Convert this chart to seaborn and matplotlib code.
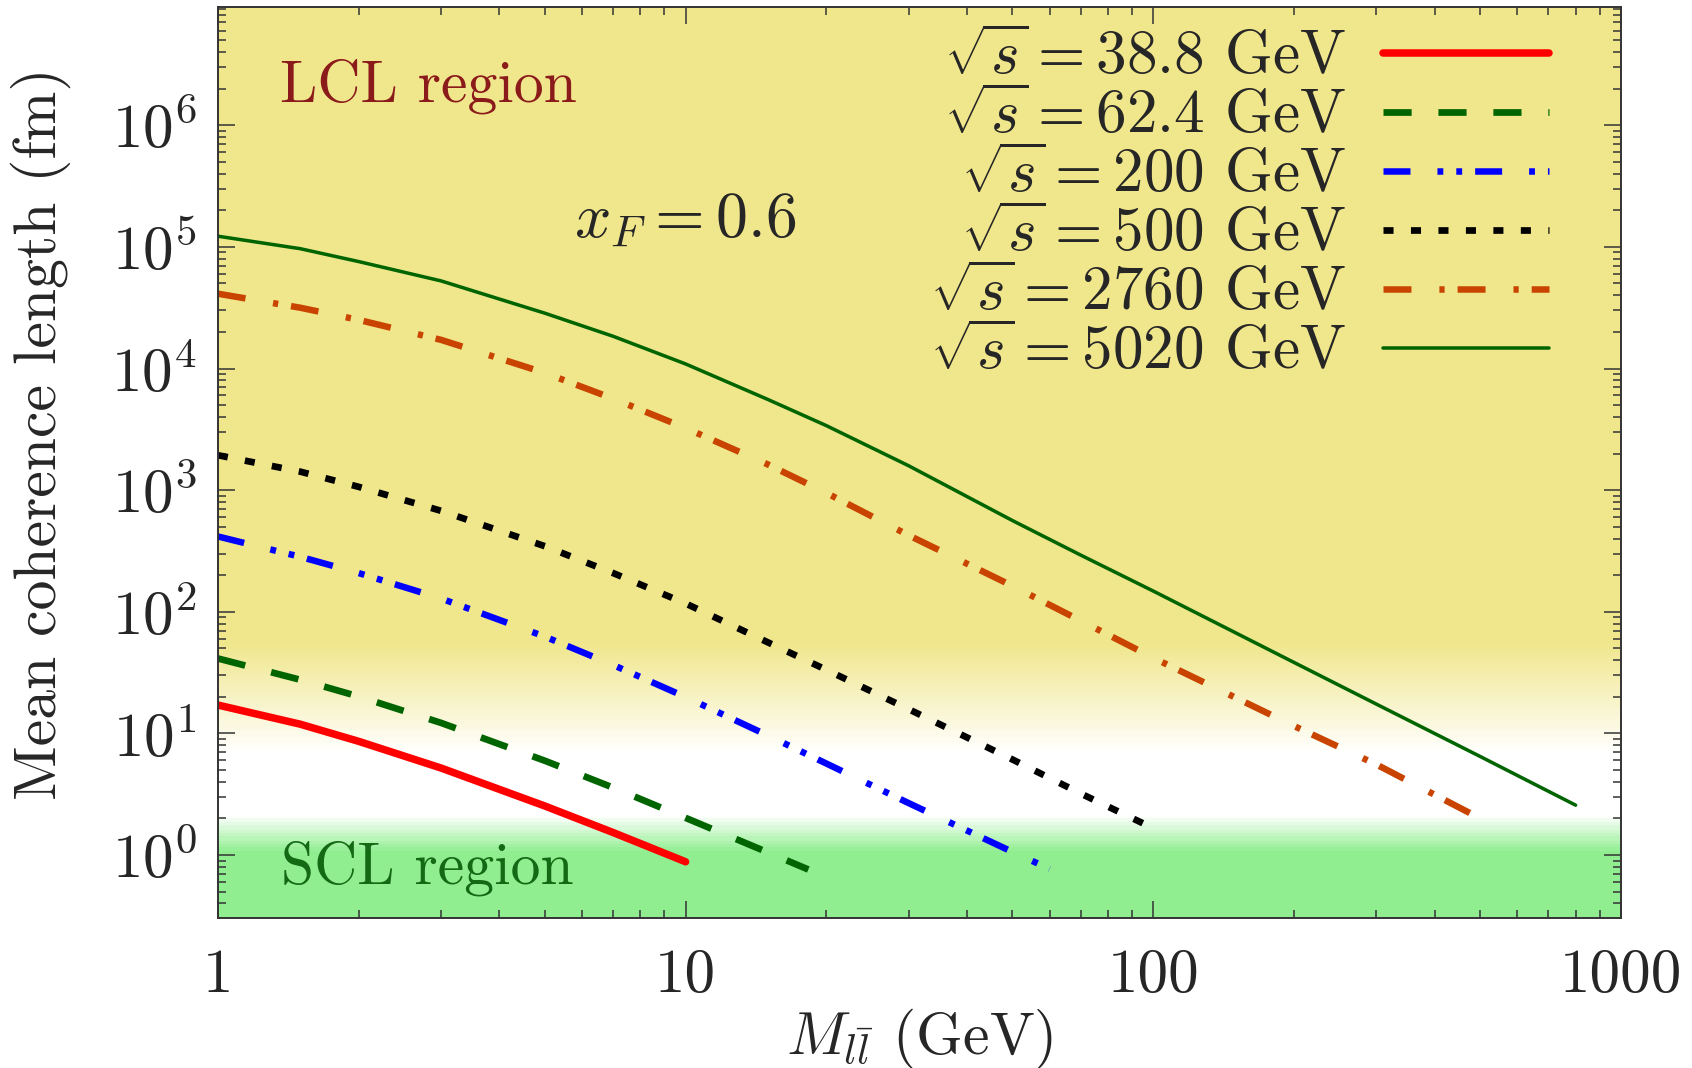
import numpy as np
import pandas as pd
import matplotlib
matplotlib.use("Agg")
import matplotlib.pyplot as plt
from matplotlib.colors import LinearSegmentedColormap
from matplotlib.ticker import LogLocator, FuncFormatter, NullFormatter
import seaborn as sns

# mean coherence length (fm) vs dilepton mass (GeV), x_F = 0.6
mass_388 = [1, 1.5, 2, 3, 5, 7, 10]
lc_388 = [17.1, 11.9, 8.6, 5.19, 2.53, 1.53, 0.88]

mass_624 = [1, 1.5, 2, 3, 5, 7, 10, 15, 18.3]
lc_624 = [41.3, 27.6, 20.1, 12.2, 5.96, 3.58, 2.02, 1.05, 0.76]

mass_200 = [1, 1.5, 2, 3, 5, 7, 10, 15, 20, 30, 50, 60]
lc_200 = [416, 283, 208, 128.5, 62.5, 36.5, 19.9, 9.6, 5.65, 2.67, 1.06, 0.77]

mass_500 = [1, 1.5, 2, 3, 5, 7, 10, 15, 20, 30, 50, 70, 100]
lc_500 = [1936, 1419, 1064, 676, 346, 208, 117, 56, 33.3, 15.8, 6.1, 3.2, 1.66]

mass_2760 = [1, 1.5, 2, 3, 5, 7, 10, 15, 20, 30, 50, 70, 100, 200, 300, 500]
lc_2760 = [41200, 31600, 25100, 17200, 9200, 5650, 3240, 1625, 948, 425, 163, 84.3, 41.8, 11.5, 5.55, 2.0]

mass_5020 = [1, 1.5, 2, 3, 5, 7, 10, 15, 20, 30, 50, 70, 100, 200, 300, 500, 800]
lc_5020 = [122400, 96600, 75700, 52500, 28500, 18400, 10900, 5560, 3390, 1585, 562, 292, 148, 38.3, 17.4, 6.46, 2.57]

energies = ["38.8", "62.4", "200", "500", "2760", "5020"]

# background bands, in log10 of the coherence length
band_logs = [-0.52, 0.02, 0.31, 0.82, 1.74, 6.97]
band_cols = ["#90ee90", "#90ee90", "#ffffff", "#ffffff", "#f0e68c", "#f0e68c"]

sns.set_style("ticks")
plt.rcParams["font.family"] = "serif"
plt.rcParams["font.serif"] = ["cmr10", "DejaVu Serif"]
plt.rcParams["mathtext.fontset"] = "cm"
plt.rcParams["axes.formatter.use_mathtext"] = True

fig = plt.figure(figsize=(16.92, 10.68), dpi=100)
ax = fig.add_axes([0.1288, 0.1402, 0.8292, 0.8530])
ax.set_xscale("log")
ax.set_yscale("log")
xlim = (1, 1000)
ylim = (10 ** band_logs[0], 10 ** band_logs[-1])

# gradient background (LCL yellow -> white -> SCL green)
pos = [(v - band_logs[0]) / (band_logs[-1] - band_logs[0]) for v in band_logs]
cmap = LinearSegmentedColormap.from_list("bg", list(zip(pos, band_cols)))
yedges = np.logspace(band_logs[0], band_logs[-1], 600)
ycent = np.log10(np.sqrt(yedges[:-1] * yedges[1:]))
ax.pcolormesh([xlim[0], xlim[1]], yedges, ycent[:, None], cmap=cmap,
              vmin=band_logs[0], vmax=band_logs[-1], shading="flat", zorder=0)

px = 0.72  # points per pixel at 100 dpi
styles = [
    dict(color="#ff0000", lw=7.5 * px, ls="-"),
    dict(color="#006400", lw=6.7 * px, ls=(0, (4.2, 4.0))),
    dict(color="#0000ff", lw=6.5 * px, ls=(0, (4.15, 4.15, 0.9, 2.0, 0.9, 2.0))),
    dict(color="#000000", lw=6.7 * px, ls=(0, (1.5, 2.6))),
    dict(color="#c84400", lw=6.5 * px, ls=(0, (4.3, 4.3, 0.8, 2.0))),
    dict(color="#006400", lw=3.5 * px, ls="-"),
]
series = [(mass_388, lc_388), (mass_624, lc_624), (mass_200, lc_200),
          (mass_500, lc_500), (mass_2760, lc_2760), (mass_5020, lc_5020)]

for (m, l), e, st in zip(series, energies, styles):
    df = pd.DataFrame({"M": m, "L": l})
    sns.lineplot(data=df, x="M", y="L", ax=ax, color=st["color"],
                 linewidth=st["lw"], linestyle=st["ls"],
                 label=r"$\sqrt{s}=%s$ GeV" % e, legend=False, zorder=3)

ax.set_xlim(*xlim)
ax.set_ylim(*ylim)

ax.xaxis.set_major_locator(LogLocator(base=10, numticks=10))
ax.xaxis.set_minor_locator(LogLocator(base=10, subs=np.arange(2, 10), numticks=20))
ax.xaxis.set_major_formatter(FuncFormatter(lambda v, p: "%g" % v))
ax.xaxis.set_minor_formatter(NullFormatter())
ax.yaxis.set_major_locator(LogLocator(base=10, numticks=12))
ax.yaxis.set_minor_locator(LogLocator(base=10, subs=np.arange(2, 10), numticks=30))
ax.yaxis.set_minor_formatter(NullFormatter())

ax.tick_params(which="both", direction="in", top=True, right=True,
               width=1.1, color="#333333")
ax.tick_params(which="major", length=12, labelsize=44)
ax.tick_params(axis="x", which="major", pad=22)
ax.tick_params(axis="y", which="major", pad=15)
ax.tick_params(which="minor", length=6)
for sp in ax.spines.values():
    sp.set_linewidth(1.4)
    sp.set_color("#333333")
    sp.set_zorder(5)

ax.set_xlabel(r"$M_{l\bar{l}}$ (GeV)", fontsize=43, labelpad=2)
ax.set_ylabel("Mean coherence length (fm)", fontsize=43)
ax.yaxis.set_label_coords(-0.105, 0.532)

ax.text(0.044, 0.897, "LCL region", transform=ax.transAxes, fontsize=43,
        color="#8b1a1a", ha="left", va="baseline")
ax.text(0.045, 0.038, "SCL region", transform=ax.transAxes, fontsize=43,
        color="#146914", ha="left", va="baseline")
ax.text(0.254, 0.748, r"$x_F = 0.6$", transform=ax.transAxes, fontsize=46,
        ha="left", va="baseline")

ax.legend(loc="upper right", bbox_to_anchor=(0.9487, 0.975), frameon=False,
          markerfirst=False, fontsize=44, handlelength=2.72, handletextpad=0.6,
          labelspacing=0.05, borderpad=0, borderaxespad=0)

fig.savefig("out.png", dpi=100)
